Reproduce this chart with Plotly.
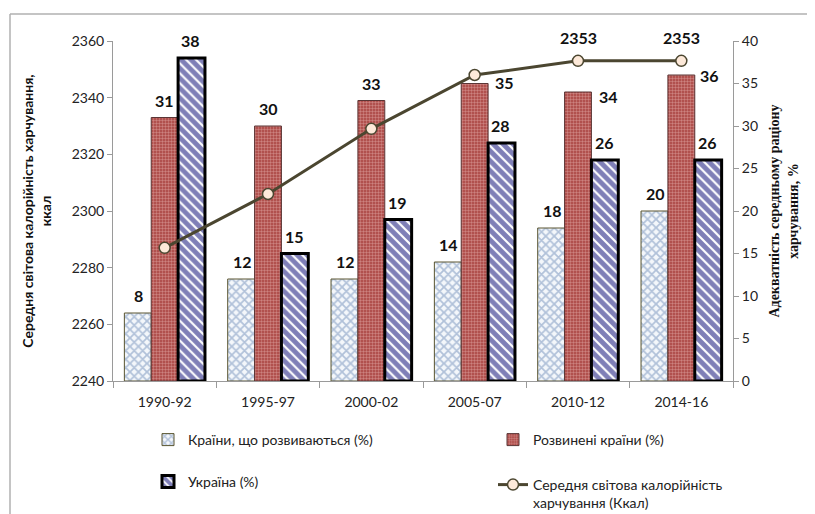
import plotly.graph_objects as go

categories = ["1990-92", "1995-97", "2000-02", "2005-07", "2010-12", "2014-16"]
developing = [8, 12, 12, 14, 18, 20]
developed = [31, 30, 33, 35, 34, 36]
ukraine = [38, 15, 19, 28, 26, 26]
calories = [2287, 2306, 2329, 2348, 2353, 2353]
calorie_labels = ["", "", "", "", "2353", "2353"]

names = ["Країни, що розвиваються (%)", "Розвинені країни (%)", "Україна (%)",
         "Середня світова калорійність<br>харчування (Ккал)"]

FONT = "Lato, 'Open Sans', sans-serif"
LINE_COL = "#4b4630"

fig = go.Figure()

fig.add_trace(go.Bar(
    x=categories, y=developing, name=names[0], yaxis="y", legend="legend", showlegend=True,
    marker=dict(color="#f4f7fb",
                pattern=dict(shape="x", fgcolor="#6d8cb8", bgcolor="#f4f7fb", size=6, solidity=0.5),
                line=dict(color="#5a5530", width=1)),
))
fig.add_trace(go.Bar(
    x=categories, y=developed, name=names[1], yaxis="y", legend="legend2", showlegend=True,
    marker=dict(color="#a8403d",
                pattern=dict(shape=".", fgcolor="#f0c4c2", bgcolor="#a8403d", size=3, solidity=0.5),
                line=dict(color="#5a3535", width=1)),
))
fig.add_trace(go.Bar(
    x=categories, y=ukraine, name=names[2], yaxis="y", legend="legend3", showlegend=True,
    marker=dict(color="#ffffff",
                pattern=dict(shape="\\", fgcolor="#000070", bgcolor="#ffffff", size=7, solidity=0.7),
                line=dict(color="#000000", width=3)),
))
fig.add_trace(go.Scatter(
    x=categories, y=calories, name=names[3], yaxis="y2", legend="legend4", showlegend=True,
    mode="lines+markers",
    line=dict(color=LINE_COL, width=3),
    marker=dict(symbol="circle", size=11, color="#fde9d9", line=dict(color=LINE_COL, width=1.5)),
))

# value labels for bars
bar_offsets = [-26, 0, 26]
special = {(1, 3): (30, -10), (1, 4): (30, -16), (1, 5): (28, -12)}
annotations = []
for s, series in enumerate([developing, developed, ukraine]):
    for i, v in enumerate(series):
        dx, dy = special.get((s, i), (0, 6))
        annotations.append(dict(
            x=categories[i], y=v, xref="x", yref="y", text=f"<b>{v}</b>",
            showarrow=False, xshift=bar_offsets[s] + dx, yshift=dy, yanchor="bottom",
            font=dict(family=FONT, size=16, color="#111111"),
        ))
for i, t in enumerate(calorie_labels):
    if t:
        annotations.append(dict(
            x=categories[i], y=calories[i], xref="x", yref="y2", text=f"<b>{t}</b>",
            showarrow=False, yshift=12, yanchor="bottom",
            font=dict(family=FONT, size=16, color="#111111"),
        ))

legend_style = dict(orientation="v", xanchor="left", yanchor="top", valign="top",
                    font=dict(family=FONT, size=14, color="#222222"), bgcolor="rgba(0,0,0,0)")

# page body has an 8px default margin, so the figure is 8px smaller in each direction
W, H = 807, 506
L, R, T, B = 105, 82, 33, 133
PW, PH = W - L - R, H - T - B


def px(xp):
    return (xp - L) / PW


def py(yp):
    return (H - B - yp) / PH


fig.update_layout(
    width=W, height=H, showlegend=True,
    margin=dict(l=L, r=R, t=T, b=B, autoexpand=False),
    paper_bgcolor="white", plot_bgcolor="white",
    barmode="group", bargap=0.22, bargroupgap=0,
    font=dict(family=FONT, size=14, color="#222222"),
    xaxis=dict(
        type="category", showline=True, linecolor="#9a9a9a", linewidth=1,
        ticks="outside", tickson="boundaries", ticklen=6, tickcolor="#9a9a9a",
        showgrid=False, tickfont=dict(size=14, color="#222222"), ticklabelstandoff=8,
    ),
    yaxis=dict(
        side="right", range=[0, 40], dtick=5, showgrid=False, zeroline=False,
        showline=True, linecolor="#9a9a9a", linewidth=1,
        ticks="outside", ticklen=5, tickcolor="#9a9a9a",
        tickfont=dict(size=14, color="#222222"),
        title=dict(text="<b>Адекватність середньому раціону<br>харчування, %</b>",
                   font=dict(family="'Liberation Serif', serif", size=14, color="#111111"),
                   standoff=12),
    ),
    yaxis2=dict(
        side="left", overlaying="y", range=[2240, 2360], dtick=20, showgrid=False, zeroline=False,
        showline=True, linecolor="#9a9a9a", linewidth=1,
        ticks="outside", ticklen=5, tickcolor="#9a9a9a",
        tickfont=dict(size=14, color="#222222"),
        title=dict(text="<b>Середня світова калорійність харчування,<br>ккал</b>",
                   font=dict(family=FONT, size=14, color="#111111"), standoff=16),
    ),
    legend=dict(x=px(140), y=py(416), **legend_style),
    legend2=dict(x=px(485), y=py(416), **legend_style),
    legend3=dict(x=px(140), y=py(458), **legend_style),
    legend4=dict(x=px(485), y=py(461), **legend_style),
    annotations=annotations,
    shapes=[
        dict(type="line", xref="paper", yref="paper",
             x0=px(2), x1=px(W), y0=py(6), y1=py(6),
             line=dict(color="#b0b0b0", width=1.5)),
        dict(type="line", xref="paper", yref="paper",
             x0=px(2), x1=px(2), y0=py(6), y1=py(H),
             line=dict(color="#b0b0b0", width=1.5)),
    ],
)

fig.write_html("out.html")
